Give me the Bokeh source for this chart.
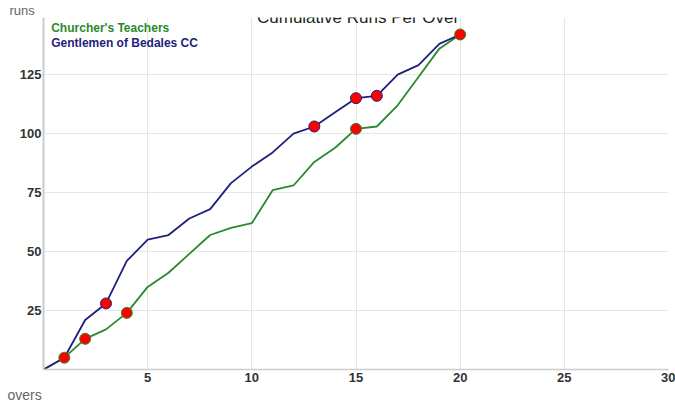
from bokeh.plotting import figure
from bokeh.models import Range1d, FixedTicker, Label, Title, ColumnDataSource
from bokeh.embed import file_html
from bokeh.resources import INLINE

# ---- data ----
overs = list(range(0, 21))
churcher_runs = [0, 5, 13, 17, 24, 35, 41, 49, 57, 60, 62, 76, 78, 88, 94, 102, 103, 112, 124, 136, 142]
bedales_runs = [0, 5, 21, 28, 46, 55, 57, 64, 68, 79, 86, 92, 100, 103, 109, 115, 116, 125, 129, 138, 142]
churcher_wicket_overs = [1, 2, 4, 15, 20]
bedales_wicket_overs = [3, 13, 15, 16]
x_ticks = [5, 10, 15, 20, 25, 30]
y_ticks = [25, 50, 75, 100, 125]
team_names = ["Churcher's Teachers", "Gentlemen of Bedales CC"]
title_text = "Cumulative Runs Per Over"
x_label = "overs"
y_label = "runs"

GREEN = "#2a8a2a"
BLUE = "#1f1f7f"
FONT = "Liberation Sans"

p = figure(width=675, height=403, output_backend="svg", toolbar_location=None,
           x_range=Range1d(0, 30), y_range=Range1d(0, 149.2),
           min_border_left=43, min_border_right=7, min_border_top=15, min_border_bottom=34)
p.outline_line_color = None
p.background_fill_color = "white"
p.border_fill_color = "white"

for ax in (p.xaxis[0], p.yaxis[0]):
    ax.major_tick_line_color = None
    ax.minor_tick_line_color = None
    ax.major_tick_out = 0
    ax.major_tick_in = 0
    ax.major_label_text_font = FONT
    ax.major_label_text_font_style = "bold"
    ax.major_label_text_font_size = "13px"
    ax.major_label_text_color = "#333333"
    ax.axis_line_color = "#cccccc"

p.xaxis.ticker = FixedTicker(ticks=x_ticks)
p.yaxis.ticker = FixedTicker(ticks=y_ticks)
p.xaxis.axis_line_width = 1.5
p.yaxis.axis_line_width = 2
p.xaxis.major_label_standoff = 3
p.yaxis.major_label_standoff = 2

p.xgrid.ticker = FixedTicker(ticks=x_ticks)
p.ygrid.ticker = FixedTicker(ticks=y_ticks)
p.xgrid.grid_line_color = "#e6e6e6"
p.ygrid.grid_line_color = "#e6e6e6"

src_c = ColumnDataSource(dict(x=overs, y=churcher_runs))
src_b = ColumnDataSource(dict(x=overs, y=bedales_runs))
p.line("x", "y", source=src_c, line_color=GREEN, line_width=1.8)
p.line("x", "y", source=src_b, line_color=BLUE, line_width=1.8)

bw = ColumnDataSource(dict(x=bedales_wicket_overs, y=[bedales_runs[o] for o in bedales_wicket_overs]))
cw = ColumnDataSource(dict(x=churcher_wicket_overs, y=[churcher_runs[o] for o in churcher_wicket_overs]))
p.scatter("x", "y", source=bw, size=11, fill_color="red", line_color=BLUE, line_width=1)
p.scatter("x", "y", source=cw, size=11, fill_color="red", line_color=GREEN, line_width=1)

# axis names as panel titles (top-left "runs", bottom-left "overs")
p.title.text = y_label
p.title.align = "left"
p.title.offset = -34
p.title.standoff = 0
p.title.text_font = FONT
p.title.text_font_size = "13px"
p.title.text_font_style = "normal"
p.title.text_color = "#666666"

p.add_layout(Title(text=x_label, align="left", offset=-36, standoff=0,
                   text_font=FONT, text_font_size="14px", text_font_style="normal",
                   text_color="#666666"), "below")

# chart title and legend texts, positioned in data units
p.add_layout(Label(x=15.1, y=149.1, text=title_text,
                   text_font=FONT, text_font_size="17px", text_color="#222222",
                   text_align="center", text_baseline="alphabetic"))
p.add_layout(Label(x=0.37, y=144.9, text=team_names[0],
                   text_font=FONT, text_font_size="12px", text_font_style="bold", text_color=GREEN,
                   text_align="left", text_baseline="alphabetic"))
p.add_layout(Label(x=0.37, y=138.5, text=team_names[1],
                   text_font=FONT, text_font_size="12px", text_font_style="bold", text_color=BLUE,
                   text_align="left", text_baseline="alphabetic"))

open("out.html", "w").write(file_html(p, INLINE))
